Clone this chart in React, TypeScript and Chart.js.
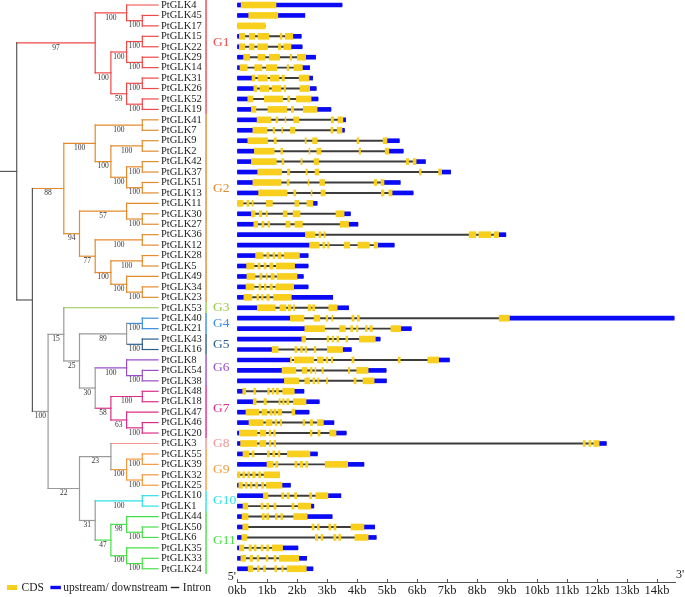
import React, { useEffect, useRef } from 'react';
import { Chart, registerables } from 'chart.js';

Chart.register(...registerables);

// ---------- data ----------
const genes = [
  'PtGLK4', 'PtGLK45', 'PtGLK17', 'PtGLK15', 'PtGLK22', 'PtGLK29', 'PtGLK14', 'PtGLK31', 'PtGLK26', 'PtGLK52',
  'PtGLK19', 'PtGLK41', 'PtGLK7', 'PtGLK9', 'PtGLK2', 'PtGLK42', 'PtGLK37', 'PtGLK51', 'PtGLK13', 'PtGLK11',
  'PtGLK30', 'PtGLK27', 'PtGLK36', 'PtGLK12', 'PtGLK28', 'PtGLK5', 'PtGLK49', 'PtGLK34', 'PtGLK23', 'PtGLK53',
  'PtGLK40', 'PtGLK21', 'PtGLK43', 'PtGLK16', 'PtGLK8', 'PtGLK54', 'PtGLK38', 'PtGLK48', 'PtGLK18', 'PtGLK47',
  'PtGLK46', 'PtGLK20', 'PtGLK3', 'PtGLK55', 'PtGLK39', 'PtGLK32', 'PtGLK25', 'PtGLK10', 'PtGLK1', 'PtGLK44',
  'PtGLK50', 'PtGLK6', 'PtGLK35', 'PtGLK33', 'PtGLK24',
];

// gene length (kb) -> intron line
const geneLengthKb = [
  3.5, 2.26, 0.94, 2.14, 2.17, 2.62, 2.42, 2.52, 2.64, 2.7,
  3.13, 3.62, 3.58, 5.41, 5.54, 6.28, 7.12, 5.44, 5.87, 2.67,
  3.78, 4.03, 8.96, 5.24, 2.37, 2.37, 2.21, 2.37, 3.19, 3.72,
  14.57, 5.81, 4.77, 3.81, 7.08, 4.97, 4.98, 2.23, 2.74, 2.4,
  3.23, 3.64, 12.31, 2.68, 4.23, 1.42, 1.78, 3.46, 2.56, 3.17,
  4.59, 4.64, 2.03, 2.32, 2.53,
];

// upstream / downstream (UTR) segments, kb
const utrKb = [
  [[0, 0.14], [1.3, 3.5]],
  [[0, 0.39], [1.36, 2.26]],
  [],
  [[0, 0.08], [1.86, 2.14]],
  [[0, 0.08], [1.8, 2.17]],
  [[0, 0.22], [2.29, 2.62]],
  [[0, 0.1], [2.18, 2.42]],
  [[0, 0.5], [2.4, 2.52]],
  [[0, 0.56], [2.42, 2.64]],
  [[0, 0.36], [2.47, 2.7]],
  [[0, 0.48], [2.67, 3.13]],
  [[0, 0.67], [3.53, 3.62]],
  [[0, 0.53], [3.5, 3.58]],
  [[0, 0.36], [5.0, 5.41]],
  [[0, 0.58], [5.06, 5.54]],
  [[0, 0.48], [5.97, 6.28]],
  [[0, 0.69], [6.82, 7.12]],
  [[0, 0.53], [4.9, 5.44]],
  [[0, 0.72], [5.17, 5.87]],
  [[2.53, 2.67]],
  [[0, 0.48], [3.57, 3.78]],
  [[0, 0.56], [3.72, 4.03]],
  [[0, 2.28], [8.72, 8.96]],
  [[0, 2.42], [4.69, 5.24]],
  [[0, 0.62], [2.08, 2.37]],
  [[0, 0.32], [1.92, 2.37]],
  [[0, 0.33], [2.0, 2.21]],
  [[0, 0.3], [1.89, 2.37]],
  [[0, 0.23], [1.81, 3.19]],
  [[0, 0.68], [3.34, 3.72]],
  [[0, 1.78], [9.08, 14.57]],
  [[0, 2.26], [5.46, 5.81]],
  [[0, 2.16], [4.61, 4.77]],
  [[0, 1.17], [3.52, 3.81]],
  [[0, 1.78], [6.72, 7.08]],
  [[0, 1.5], [4.37, 4.97]],
  [[0, 1.58], [4.57, 4.98]],
  [[0, 0.19], [1.91, 2.23]],
  [[0, 0.54], [2.3, 2.74]],
  [[0, 0.3], [1.93, 2.4]],
  [[0, 0.4], [2.88, 3.23]],
  [[0, 0.08], [3.3, 3.64]],
  [[0, 0.12], [12.07, 12.31]],
  [[0, 0.2], [2.43, 2.68]],
  [[0, 1.0], [3.69, 4.23]],
  [],
  [[0, 0.06], [1.5, 1.78]],
  [[0, 0.88], [3.03, 3.46]],
  [[0, 0.2], [2.46, 2.56]],
  [[0, 0.17], [2.34, 3.17]],
  [[0, 0.19], [4.23, 4.59]],
  [[0, 0.16], [4.37, 4.64]],
  [[0, 0.08], [1.52, 2.03]],
  [[0, 0.13], [2.06, 2.32]],
  [[0, 0.37], [2.31, 2.53]],
];

// CDS segments, kb
const cdsKb = [
  [[0.14, 1.3]],
  [[0.39, 1.36]],
  [[0, 0.94]],
  [[0.08, 0.26], [0.41, 0.59], [0.7, 1.06], [1.44, 1.5], [1.61, 1.86]],
  [[0.08, 0.26], [0.41, 0.57], [0.69, 1.02], [1.38, 1.46], [1.56, 1.8]],
  [[0.22, 0.42], [0.7, 0.93], [1.08, 1.42], [1.77, 1.82], [2.01, 2.29]],
  [[0.1, 0.34], [0.59, 0.83], [0.98, 1.33], [1.67, 1.73], [1.9, 2.18]],
  [[0.5, 0.6], [0.7, 1.01], [1.11, 1.4], [1.5, 1.58], [2.07, 2.4]],
  [[0.56, 0.66], [0.77, 1.06], [1.17, 1.46], [1.57, 1.62], [2.1, 2.42]],
  [[0.36, 0.53], [0.91, 1.52], [1.69, 1.76], [1.98, 2.47]],
  [[0.48, 0.63], [1.03, 1.66], [1.81, 1.89], [2.21, 2.67]],
  [[0.67, 1.13], [1.3, 1.36], [1.6, 1.63], [1.89, 2.06], [3.14, 3.22], [3.37, 3.53]],
  [[0.53, 1.0], [1.2, 1.26], [1.49, 1.52], [1.78, 1.93], [3.13, 3.2], [3.34, 3.5]],
  [[0.36, 1.02], [1.24, 1.31], [2.27, 2.31], [2.52, 2.67], [4.0, 4.06], [4.87, 5.0]],
  [[0.58, 1.24], [1.46, 1.52], [2.4, 2.43], [2.66, 2.8], [4.07, 4.12], [4.94, 5.06]],
  [[0.48, 1.31], [1.5, 1.56], [2.13, 2.17], [2.57, 2.72], [5.64, 5.72], [5.87, 5.97]],
  [[0.69, 1.49], [1.68, 1.76], [2.3, 2.34], [2.6, 2.73], [6.08, 6.14], [6.72, 6.82]],
  [[0.53, 1.47], [1.67, 1.74], [2.37, 2.4], [2.76, 2.92], [4.57, 4.66], [4.8, 4.9]],
  [[0.72, 1.67], [1.89, 1.96], [2.47, 2.5], [2.8, 2.94], [4.81, 4.9], [5.06, 5.17]],
  [[0, 0.2], [0.33, 0.4], [0.5, 0.54], [0.98, 1.18], [1.93, 2.06], [2.33, 2.53]],
  [[0.48, 0.6], [0.74, 0.83], [0.97, 1.01], [1.54, 1.67], [1.87, 2.1], [3.3, 3.57]],
  [[0.56, 0.69], [0.83, 0.9], [1.03, 1.09], [1.63, 1.77], [1.93, 2.18], [3.44, 3.72]],
  [[2.28, 2.6], [2.73, 2.8], [2.9, 2.94], [7.74, 7.96], [8.06, 8.46], [8.57, 8.72]],
  [[2.42, 2.74], [2.86, 2.93], [3.02, 3.07], [3.57, 3.76], [4.03, 4.41], [4.57, 4.69]],
  [[0.62, 0.87], [0.99, 1.07], [1.2, 1.26], [1.37, 1.47], [1.57, 2.08]],
  [[0.32, 0.57], [0.7, 0.77], [0.9, 0.97], [1.09, 1.2], [1.31, 1.92]],
  [[0.33, 0.6], [0.76, 0.83], [0.97, 1.01], [1.13, 1.24], [1.34, 2.0]],
  [[0.3, 0.57], [0.73, 0.8], [0.91, 0.97], [1.1, 1.18], [1.29, 1.89]],
  [[0.23, 0.5], [0.66, 0.72], [0.82, 0.87], [0.99, 1.08], [1.22, 1.81]],
  [[0.68, 1.27], [1.43, 1.63], [1.71, 1.8], [1.88, 1.92], [2.37, 2.46], [2.52, 2.59], [3.06, 3.34]],
  [[1.78, 2.23], [2.57, 2.76], [2.97, 3.02], [3.16, 3.19], [3.83, 3.9], [4.01, 4.08], [8.74, 9.08]],
  [[2.26, 2.92], [3.42, 3.61], [3.79, 3.86], [3.98, 4.03], [4.28, 4.34], [4.43, 4.51], [5.13, 5.46]],
  [[2.16, 2.29], [3.0, 3.06], [3.17, 3.22], [3.33, 3.39], [3.63, 3.69], [4.08, 4.61]],
  [[1.17, 1.37], [1.93, 2.0], [2.12, 2.18], [2.27, 2.32], [2.57, 2.63], [3.01, 3.52]],
  [[1.78, 1.82], [1.91, 2.56], [2.68, 2.87], [2.97, 3.03], [3.14, 3.19], [3.83, 3.9], [5.37, 5.44], [6.36, 6.72]],
  [[1.5, 1.96], [2.17, 2.33], [2.44, 2.5], [2.6, 2.63], [2.83, 2.88], [3.71, 3.76], [3.99, 4.37]],
  [[1.58, 2.06], [2.26, 2.42], [2.53, 2.59], [2.69, 2.73], [2.98, 3.02], [3.9, 3.97], [4.2, 4.57]],
  [[0.19, 0.29], [0.56, 0.62], [1.02, 1.08], [1.17, 1.23], [1.31, 1.38], [1.52, 1.91]],
  [[0.54, 0.64], [0.9, 0.98], [1.4, 1.44], [1.52, 1.57], [1.66, 1.73], [1.88, 2.3]],
  [[0.3, 0.73], [0.83, 1.0], [1.1, 1.17], [1.23, 1.3], [1.37, 1.49], [1.83, 1.93]],
  [[0.4, 0.87], [0.97, 1.17], [1.27, 1.33], [1.44, 1.49], [2.2, 2.26], [2.44, 2.52], [2.68, 2.88]],
  [[0.08, 0.67], [0.77, 0.96], [1.07, 1.13], [1.22, 1.28], [2.44, 2.5], [2.7, 2.77], [3.09, 3.3]],
  [[0.12, 0.66], [0.76, 0.96], [1.08, 1.13], [1.23, 1.29], [11.54, 11.61], [11.73, 11.8], [11.89, 12.07]],
  [[0.2, 0.4], [0.5, 0.57], [1.01, 1.08], [1.19, 1.26], [1.37, 1.43], [1.68, 2.43]],
  [[1.0, 1.2], [1.29, 1.36], [1.93, 2.0], [2.1, 2.19], [2.29, 2.36], [2.94, 3.69]],
  [[0, 0.1], [0.19, 0.26], [0.36, 0.42], [0.52, 0.61], [0.72, 0.79], [0.9, 1.42]],
  [[0.06, 0.18], [0.28, 0.34], [0.44, 0.5], [0.62, 0.69], [0.82, 0.89], [0.98, 1.5]],
  [[0.88, 1.03], [1.49, 1.56], [1.67, 1.74], [1.92, 1.99], [2.42, 2.49], [2.63, 3.03]],
  [[0.2, 0.36], [0.8, 0.87], [0.99, 1.06], [1.23, 1.3], [1.83, 1.9], [2.04, 2.46]],
  [[0.17, 0.37], [0.84, 0.91], [0.99, 1.06], [1.28, 1.34], [1.46, 1.52], [1.89, 2.34]],
  [[0.19, 0.37], [2.5, 2.57], [2.68, 2.74], [3.06, 3.13], [3.23, 3.3], [3.8, 4.23]],
  [[0.16, 0.33], [2.61, 2.69], [2.8, 2.86], [3.22, 3.3], [3.39, 3.46], [3.93, 4.37]],
  [[0.08, 0.23], [0.4, 0.48], [0.57, 0.64], [0.8, 0.87], [0.99, 1.06], [1.18, 1.52]],
  [[0.13, 0.29], [0.43, 0.52], [0.67, 0.73], [0.97, 1.03], [1.23, 1.3], [1.41, 2.06]],
  [[0.37, 0.53], [0.68, 0.74], [0.88, 0.95], [1.26, 1.32], [1.49, 1.54], [1.67, 2.31]],
];

const kbTicks = [0, 1, 2, 3, 4, 5, 6, 7, 8, 9, 10, 11, 12, 13, 14];

// phylogeny (Newick; internal labels = bootstrap, "#key" = clade colour key)
const treeNewick =
  '(((PtGLK4,(PtGLK45,PtGLK17)100)100,(((PtGLK15,PtGLK22)100,(PtGLK29,PtGLK14)100)100,((PtGLK31,PtGLK26)100,(PtGLK52,PtGLK19)100)59)100)97#G1,' +
  '((((PtGLK41,PtGLK7)100,((PtGLK9,PtGLK2)100,((PtGLK42,PtGLK37)100,(PtGLK51,PtGLK13)100)100)100)100,((PtGLK11,(PtGLK30,PtGLK27)100)57,((PtGLK36,PtGLK12)100,((PtGLK28,PtGLK5)100,(PtGLK49,(PtGLK34,PtGLK23)100)100)100)77)94)88#G2,' +
  '((PtGLK53#G3,(((PtGLK40,PtGLK21)100#G4,(PtGLK43,PtGLK16)100#G5)89,((PtGLK8,(PtGLK54,PtGLK38)100)100#G6,((PtGLK48,PtGLK18)100,(PtGLK47,(PtGLK46,PtGLK20)100)63)58#G7)30)25)15,' +
  '((PtGLK3#G8,((PtGLK55,PtGLK39)100,(PtGLK32,PtGLK25)100)100#G9)23,((PtGLK10,PtGLK1)100#G10,((PtGLK44,(PtGLK50,PtGLK6)100)98,(PtGLK35,(PtGLK33,PtGLK24)100)100)47#G11)31)22)100#gray)#dark)#dark;';

const groupNames = ['G1', 'G2', 'G3', 'G4', 'G5', 'G6', 'G7', 'G8', 'G9', 'G10', 'G11'];
const groupRows = [[0, 10], [11, 28], [29, 29], [30, 31], [32, 33], [34, 36], [37, 41], [42, 42], [43, 46], [47, 48], [49, 54]];
const groupColors = ['#F04848', '#E38B2C', '#95C940', '#3B8FDB', '#2B5E8C', '#9A4DC9', '#DD2D88', '#F29494', '#F59A3C', '#2FE0E6', '#48E048'];
const backboneColors: Record<string, string> = { gray: '#9A9A9A', dark: '#5A5A5A' };

const legendLabels = ['CDS', 'upstream/ downstream', 'Intron'];

// ---------- styling ----------
const SERIF = '"Liberation Serif", "DejaVu Serif", serif';
const CDS_COLOR = '#F8CF1C';
const UTR_COLOR = '#0A0AF5';
const INTRON_COLOR = '#3C3C3C';
const TREE_LEVELS = 9; // root depth in node levels
const NAME_P = 9.19;
const GROUP_BAR_P = 12.06;
const GROUP_LABEL_P = 12.5;

type TNode = { name?: string; label?: string; key?: string; children: TNode[]; p?: number; y?: number; h?: number; color?: string };

function parseNewick(s: string): TNode {
  let i = 0;
  const readToken = () => {
    let t = '';
    while (i < s.length && !'(),;'.includes(s[i])) t += s[i++];
    return t;
  };
  const node = (): TNode => {
    const n: TNode = { children: [] };
    if (s[i] === '(') {
      i++;
      n.children.push(node());
      while (s[i] === ',') { i++; n.children.push(node()); }
      i++;
      const [lab, key] = readToken().split('#');
      n.label = lab || undefined;
      n.key = key;
    } else {
      const [nm, key] = readToken().split('#');
      n.name = nm;
      n.key = key;
    }
    return n;
  };
  return node();
}

function colorForKey(key: string): string {
  const gi = groupNames.indexOf(key);
  if (gi >= 0) return groupColors[gi];
  return backboneColors[key] || '#5A5A5A';
}

export default function App() {
  const ref = useRef<HTMLCanvasElement>(null);

  useEffect(() => {
    const canvas = ref.current;
    if (!canvas) return;

    // ----- tree layout -----
    const root = parseNewick(treeNewick);
    const height = (n: TNode): number => {
      n.h = n.children.length ? 1 + Math.max(...n.children.map(height)) : 0;
      return n.h;
    };
    height(root);
    const place = (n: TNode, key: string) => {
      const k = n.key || key;
      n.key = k;
      n.color = colorForKey(k);
      n.p = TREE_LEVELS - (n.h as number);
      if (n.children.length) {
        n.children.forEach((c) => place(c, k));
        const ys = n.children.map((c) => c.y as number);
        n.y = (Math.min(...ys) + Math.max(...ys)) / 2;
      } else {
        n.y = genes.indexOf(n.name as string);
      }
    };
    place(root, 'dark');

    const segments: { pts: { x: number; y: number }[]; color: string }[] = [];
    const supports: { text: string; p: number; y: number }[] = [];
    const groupLabelY: number[] = groupNames.map(() => NaN);
    const walk = (n: TNode, parent: TNode | null) => {
      const gi = groupNames.indexOf(n.key as string);
      if (gi >= 0 && isNaN(groupLabelY[gi])) groupLabelY[gi] = n.y as number;
      if (parent) {
        segments.push({ pts: [{ x: parent.p as number, y: n.y as number }, { x: n.p as number, y: n.y as number }], color: n.color as string });
        if (n.label) supports.push({ text: n.label, p: ((parent.p as number) + (n.p as number)) / 2, y: n.y as number });
      } else {
        segments.push({ pts: [{ x: (n.p as number) - 1.06, y: n.y as number }, { x: n.p as number, y: n.y as number }], color: n.color as string });
      }
      if (n.children.length) {
        const ys = n.children.map((c) => c.y as number);
        segments.push({ pts: [{ x: n.p as number, y: Math.min(...ys) }, { x: n.p as number, y: Math.max(...ys) }], color: n.color as string });
        n.children.forEach((c) => walk(c, n));
      }
    };
    walk(root, null);

    const datasets: any[] = [];

    // gene structures
    const cdsData: any[] = [];
    const utrData: any[] = [];
    genes.forEach((_, i) => {
      cdsKb[i].forEach((seg) => cdsData.push({ x: seg, y: i }));
      utrKb[i].forEach((seg) => utrData.push({ x: seg, y: i }));
    });
    datasets.push({
      type: 'bar', indexAxis: 'y', label: legendLabels[0], data: cdsData, backgroundColor: CDS_COLOR,
      barThickness: 6, grouped: false, order: 1, xAxisID: 'x', yAxisID: 'y', borderWidth: 0,
    });
    datasets.push({
      type: 'bar', indexAxis: 'y', label: legendLabels[1], data: utrData, backgroundColor: UTR_COLOR,
      barThickness: 4, grouped: false, order: 2, xAxisID: 'x', yAxisID: 'y', borderWidth: 0,
    });
    datasets.push({
      type: 'bar', indexAxis: 'y', label: legendLabels[2],
      data: genes.map((_, i) => ({ x: [0, geneLengthKb[i]], y: i })),
      backgroundColor: INTRON_COLOR, barThickness: 1.3, grouped: false, order: 3, xAxisID: 'x', yAxisID: 'y', borderWidth: 0,
    });

    // tree branches
    segments.forEach((s) => {
      datasets.push({
        type: 'scatter', data: s.pts, showLine: true, borderColor: s.color, borderWidth: 1.2,
        borderCapStyle: 'square', pointRadius: 0, xAxisID: 'xt', yAxisID: 'y', clip: false, order: 4,
      });
    });

    // group bars
    groupRows.forEach((r, k) => {
      datasets.push({
        type: 'scatter',
        data: [{ x: GROUP_BAR_P, y: r[0] - 0.5 }, { x: GROUP_BAR_P, y: r[1] + 0.5 }],
        showLine: true, borderColor: groupColors[k], borderWidth: 1.4, pointRadius: 0,
        xAxisID: 'xt', yAxisID: 'y', clip: false, order: 4,
      });
    });

    const textPlugin = {
      id: 'glkText',
      afterDraw(chart: any) {
        const ctx = chart.ctx;
        const xt = chart.scales.xt;
        const ys = chart.scales.y;
        const xs = chart.scales.x;
        ctx.save();
        ctx.textBaseline = 'middle';

        // gene names
        ctx.font = `10.5px ${SERIF}`;
        ctx.fillStyle = '#1a1a1a';
        ctx.textAlign = 'left';
        genes.forEach((g, i) => ctx.fillText(g, xt.getPixelForValue(NAME_P), ys.getPixelForValue(i)));

        // bootstrap values
        ctx.font = `7.5px ${SERIF}`;
        ctx.fillStyle = '#333';
        ctx.textAlign = 'center';
        supports.forEach((s) => ctx.fillText(s.text, xt.getPixelForValue(s.p), ys.getPixelForValue(s.y) + 4.8));

        // group labels
        ctx.font = `13.5px ${SERIF}`;
        ctx.textAlign = 'left';
        groupNames.forEach((g, k) => {
          ctx.fillStyle = groupColors[k];
          ctx.fillText(g, xt.getPixelForValue(GROUP_LABEL_P), ys.getPixelForValue(groupLabelY[k]));
        });

        // 5' / 3'
        const base = chart.chartArea.bottom;
        ctx.font = `12px ${SERIF}`;
        ctx.fillStyle = '#222';
        ctx.textAlign = 'right';
        ctx.fillText("5'", xs.getPixelForValue(0) - 1, base - 5);
        ctx.textAlign = 'left';
        ctx.fillText("3'", chart.chartArea.right + 1, base - 7);

        // legend
        const ly = 587.5;
        let cx = 7;
        ctx.font = `11.5px ${SERIF}`;
        ctx.fillStyle = CDS_COLOR;
        ctx.fillRect(cx, ly - 2.5, 10, 5);
        cx += 14.5;
        ctx.fillStyle = '#222';
        ctx.fillText(legendLabels[0], cx, ly);
        cx += ctx.measureText(legendLabels[0]).width + 6.5;
        ctx.fillStyle = UTR_COLOR;
        ctx.fillRect(cx, ly - 1.7, 10.5, 3.4);
        cx += 13;
        ctx.fillStyle = '#222';
        ctx.fillText(legendLabels[1], cx, ly);
        cx += ctx.measureText(legendLabels[1]).width + 3;
        ctx.fillRect(cx, ly - 0.7, 8.5, 1.4);
        cx += 12;
        ctx.fillText(legendLabels[2], cx, ly);

        ctx.restore();
      },
    };

    const chart = new Chart(canvas, {
      type: 'scatter',
      data: { datasets },
      options: {
        responsive: false,
        maintainAspectRatio: false,
        animation: false,
        events: [],
        layout: { padding: { left: 237, right: 10, top: 0, bottom: 0 } },
        plugins: { legend: { display: false }, tooltip: { enabled: false }, title: { display: false } },
        scales: {
          x: {
            type: 'linear',
            position: 'bottom',
            min: 0,
            max: 14.6,
            offset: false,
            afterBuildTicks: (s: any) => { s.ticks = kbTicks.map((v) => ({ value: v })); },
            afterFit: (s: any) => { s.height = 15; },
            ticks: {
              callback: (v: any) => `${v}kb`,
              font: { family: SERIF, size: 12.5 },
              color: '#222',
              padding: 4.5,
              maxRotation: 0,
              autoSkip: false,
            },
            grid: { display: true, drawOnChartArea: false, drawTicks: true, tickLength: -3, color: '#555', lineWidth: 1, offset: false },
            border: { display: true, color: '#555', width: 1 },
          },
          xt: {
            type: 'linear',
            position: 'bottom',
            display: false,
            min: (237 - 16.7) / 15.7,
            max: (675 - 16.7) / 15.7,
            offset: false,
          },
          y: {
            type: 'linear',
            display: false,
            reverse: true,
            min: -0.479,
            max: 55.268,
            offset: false,
          },
        },
      } as any,
      plugins: [textPlugin],
    });

    return () => chart.destroy();
  }, []);

  return (
    <div style={{ position: 'fixed', left: 0, top: 0, width: 685, height: 597, background: '#fff' }}>
      <canvas ref={ref} width={685} height={597} style={{ display: 'block' }} />
    </div>
  );
}
